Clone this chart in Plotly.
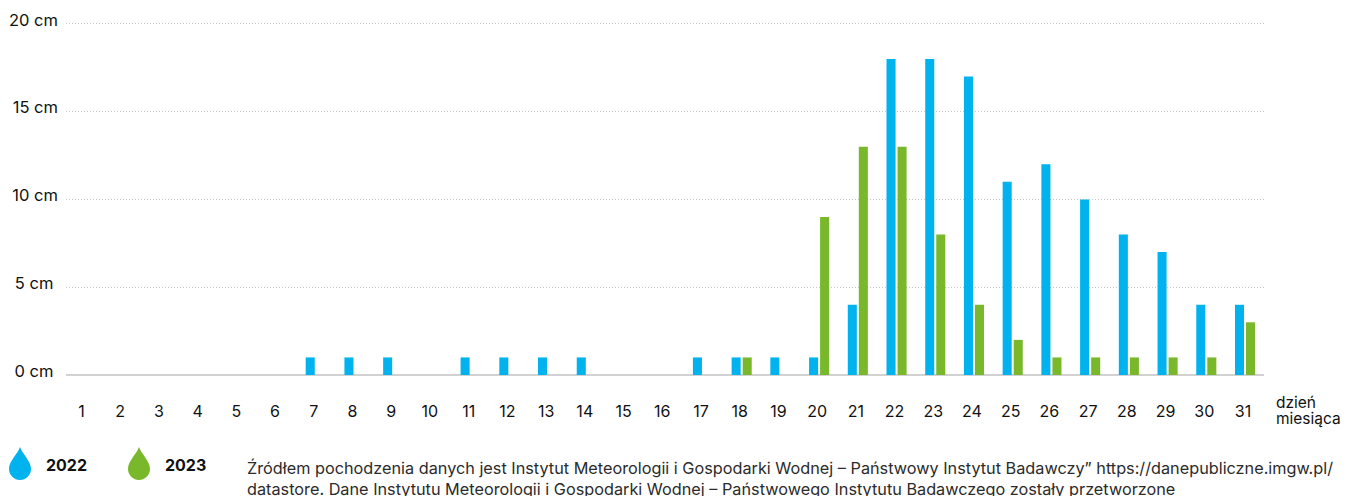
import plotly.graph_objects as go

# Opady dzienne, wartosci
days = list(range(1, 32))
values_2022 = [0, 0, 0, 0, 0, 0, 1, 1, 1, 0, 1, 1, 1, 1, 0, 0, 1, 1, 1, 1,
               4, 18, 18, 17, 11, 12, 10, 8, 7, 4, 4]
values_2023 = [0, 0, 0, 0, 0, 0, 0, 0, 0, 0, 0, 0, 0, 0, 0, 0, 0, 1, 0, 9,
               13, 13, 8, 4, 2, 1, 1, 1, 1, 1, 3]
y_ticks = [0, 5, 10, 15, 20]
y_labels = ["0 cm\u00a0", "5 cm\u00a0", "10 cm", "15 cm", "20 cm"]
series_names = ["2022", "2023"]

BLUE = "#00B3EF"
GREEN = "#78B82A"
FONT = "Inter"
W, H = 1345, 496
LEFT, RIGHT, TOP, BOTTOM = 66, 81, 22.2, 121

footnote = ("Źródłem pochodzenia danych jest Instytut Meteorologii i Gospodarki Wodnej – "
            "Państwowy Instytut Badawczy” https://danepubliczne.imgw.pl/<br>"
            "datastore. Dane Instytutu Meteorologii i Gospodarki Wodnej – "
            "Państwowego Instytutu Badawczego zostały przetworzone")


def px_x(px):
    return (px - LEFT) / (W - LEFT - RIGHT)


def px_y(px):
    return 1 - (px - TOP) / (H - TOP - BOTTOM)


def drop_path(x0):
    # kropla: szerokosc 22 px, wysokosc 33 px
    xm, xr = px_x(x0 + 11), px_x(x0 + 22)
    xl = px_x(x0)
    top, mid, bot = px_y(447), px_y(469), px_y(480)
    return (f"M {xm} {top} C {px_x(x0 + 8)} {px_y(455)}, {xl} {px_y(461)}, {xl} {mid} "
            f"C {xl} {px_y(475)}, {px_x(x0 + 5)} {bot}, {xm} {bot} "
            f"C {px_x(x0 + 17)} {bot}, {xr} {px_y(475)}, {xr} {mid} "
            f"C {xr} {px_y(461)}, {px_x(x0 + 14)} {px_y(455)}, {xm} {top} Z")


def note(text, x, y, size, color="#111111", yanchor="middle"):
    return dict(text=text, xref="paper", yref="paper", x=px_x(x), y=px_y(y),
                xanchor="left", yanchor=yanchor, align="left", showarrow=False,
                font=dict(size=size, color=color))


fig = go.Figure()
fig.add_bar(x=days, y=values_2022, name=series_names[0], marker_color=BLUE, marker_line_width=0)
fig.add_bar(x=days, y=values_2023, name=series_names[1], marker_color=GREEN, marker_line_width=0)

fig.update_layout(
    width=W, height=H,
    margin=dict(l=LEFT, r=RIGHT, t=TOP, b=BOTTOM, pad=0, autoexpand=False),
    paper_bgcolor="white", plot_bgcolor="white",
    font=dict(family=FONT, color="#111111", size=16),
    barmode="group", bargap=0.43, bargroupgap=0.18,
    showlegend=False,
    shapes=[
        dict(type="path", xref="paper", yref="paper", path=drop_path(9), fillcolor=BLUE, line_width=0),
        dict(type="path", xref="paper", yref="paper", path=drop_path(128), fillcolor=GREEN, line_width=0),
    ],
    annotations=[
        note(f"<b>{series_names[0]}</b>", 44, 465, 16),
        note(f"<b>{series_names[1]}</b>", 163, 465, 16),
        note("dzień", 1274, 402, 15.5),
        note("miesiąca", 1274, 418, 15.5),
        note(footnote, 245, 456, 16.26, "#2b2b2b", yanchor="top"),
    ],
)
fig.update_xaxes(
    range=[0.55, 31.49], tickmode="array", tickvals=days, ticktext=[str(d) for d in days],
    showgrid=False, zeroline=False, showline=False, ticks="", automargin=False,
    ticklabelstandoff=25, ticklabelshift=-2, tickfont=dict(size=16),
)
fig.update_yaxes(
    range=[0, 20.1], tickmode="array", tickvals=y_ticks, ticktext=y_labels,
    showgrid=True, griddash="1px,2px", gridcolor="#c4c4c4", gridwidth=1,
    zeroline=True, zerolinecolor="#d2d2d2", zerolinewidth=2, automargin=False,
    ticks="", ticklabelstandoff=7, ticklabelshift=-4, tickfont=dict(size=16.5),
)

fig.write_html("out.html", config={"displayModeBar": False},
               post_script="document.body.style.margin='0';")
